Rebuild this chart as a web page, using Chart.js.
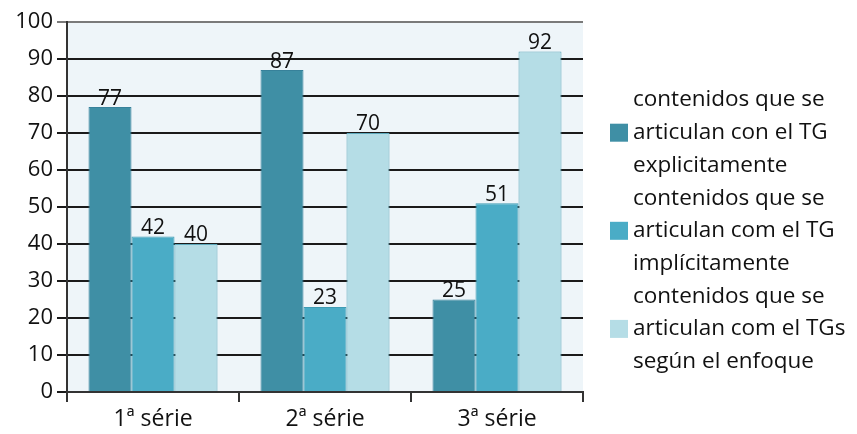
<!DOCTYPE html>
<html>
<head>
<meta charset="utf-8">
<script src="https://cdn.jsdelivr.net/npm/chart.js@4/dist/chart.umd.min.js"></script>
<style>
  html, body { margin: 0; padding: 0; background: #fff; }
  #wrap { width: 857px; height: 434px; }
</style>
</head>
<body>
<div id="wrap"><canvas id="grafico" width="857" height="434"></canvas></div>
<script>
const categorias = ['1ª série', '2ª série', '3ª série'];
const explicito = [77, 87, 25];
const implicito = [42, 23, 51];
const enfoque = [40, 70, 92];
const ticksY = [0, 10, 20, 30, 40, 50, 60, 70, 80, 90, 100];
const leyendas = [
    ['contenidos que se', 'articulan con el TG', 'explicitamente'],
    ['contenidos que se', 'articulan com el TG', 'implícitamente'],
    ['contenidos que se', 'articulan com el TGs', 'según el enfoque']
];

const fuente = "'Open Sans', 'Noto Sans', sans-serif";

// fondo del área de trazado
const fondo = {
    id: 'fondo',
    beforeDraw(chart) {
        const a = chart.chartArea, c = chart.ctx;
        c.save();
        c.fillStyle = '#eef5f9';
        c.fillRect(a.left, a.top, a.right - a.left, a.bottom - a.top);
        c.restore();
    }
};

// valores encima de las barras
const etiquetas = {
    id: 'etiquetas',
    afterDatasetsDraw(chart) {
        const c = chart.ctx;
        c.save();
        c.font = '21px ' + fuente;
        c.fillStyle = '#111';
        c.textAlign = 'center';
        c.textBaseline = 'bottom';
        chart.data.datasets.forEach((ds, i) => {
            chart.getDatasetMeta(i).data.forEach((bar, j) => {
                c.fillText(ds.data[j], bar.x, bar.y + 2);
            });
        });
        c.restore();
    }
};

// leyenda a la derecha, con texto en varias líneas
const leyenda = {
    id: 'leyenda',
    afterDraw(chart) {
        const c = chart.ctx;
        const x0 = 610, lineH = 32.7, y0 = 100;
        c.save();
        c.font = '22.5px ' + fuente;
        c.textBaseline = 'middle';
        chart.data.datasets.forEach((ds, i) => {
            leyendas[i].forEach((t, k) => {
                c.fillStyle = '#111';
                c.fillText(t, x0 + 23, y0 + (i * 3 + k) * lineH);
            });
            const ym = y0 + (i * 3 + 1) * lineH;
            c.fillStyle = ds.backgroundColor;
            c.fillRect(x0, ym - 9, 18, 18);
        });
        c.restore();
    }
};

new Chart(document.getElementById('grafico'), {
    type: 'bar',
    data: {
        labels: categorias,
        datasets: [
            { label: leyendas[0].join(' '), data: explicito, backgroundColor: '#3f8fa5', borderColor: '#37819a', borderWidth: 1 },
            { label: leyendas[1].join(' '), data: implicito, backgroundColor: '#4aacc6', borderColor: '#3f9bb3', borderWidth: 1 },
            { label: leyendas[2].join(' '), data: enfoque, backgroundColor: '#b5dde6', borderColor: '#5ea9bc', borderWidth: 1 }
        ]
    },
    options: {
        responsive: false,
        animation: false,
        layout: { padding: { top: 22, right: 274, left: 0, bottom: 0 } },
        datasets: { bar: { categoryPercentage: 0.75, barPercentage: 1 } },
        plugins: {
            legend: { display: false },
            tooltip: { enabled: false }
        },
        scales: {
            x: {
                grid: { offset: true, drawOnChartArea: false, color: '#333', lineWidth: 2, tickLength: 10 },
                border: { color: '#333', width: 2 },
                ticks: { color: '#111', font: { family: fuente, size: 23 }, padding: 4 },
                afterFit(s) { s.height = 42; }
            },
            y: {
                min: 0,
                max: 100,
                afterBuildTicks(s) { s.ticks = ticksY.map(v => ({ value: v })); },
                grid: {
                    color: ctx => ctx.tick && ctx.tick.value === 100 ? '#7a7a7a' : '#1a1a1a',
                    lineWidth: 2,
                    tickLength: 10
                },
                border: { color: '#333', width: 2 },
                ticks: { color: '#111', font: { family: fuente, size: 22 }, padding: 4 },
                afterFit(s) { s.width = 67; }
            }
        }
    },
    plugins: [fondo, etiquetas, leyenda]
});
</script>
</body>
</html>
